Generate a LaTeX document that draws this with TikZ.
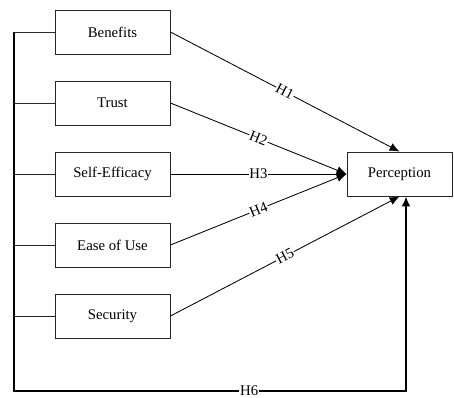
\documentclass[tikz,border=0pt]{standalone}
\usepackage{fontspec}
\setmainfont{Liberation Serif}
\usepackage{tikz}
\usetikzlibrary{arrows.meta,positioning}

\begin{document}
\begin{tikzpicture}[x=0.025cm,y=-0.025cm,>={Latex[length=7pt,width=6pt]},
    box/.style={draw=black!85,line width=0.6pt,minimum width=2.875cm,minimum height=1.1cm,inner sep=0pt,font=\fontsize{10.5}{12}\selectfont},
    hyp/.style={fill=white,inner sep=0.5pt,font=\fontsize{10.5}{12}\selectfont}]

        \useasboundingbox (0,0) rectangle (454,397);

        % factors
        \node[box] at (112.5,32) (Ben) {Benefits};
        \node[box] at (112.5,103) (Tru) {Trust};
        \node[box] at (112.5,174) (Self) {Self-Efficacy};
        \node[box] at (112.5,245) (Ease) {Ease of Use};
        \node[box] at (112.5,316) (Sec) {Security};
        \node[box,minimum width=2.625cm] at (399.5,174) (Per) {Perception};

        % left bus
        \coordinate (b1) at (14,32);
        \coordinate (b2) at (14,103);
        \coordinate (b3) at (14,174);
        \coordinate (b4) at (14,245);
        \coordinate (b5) at (14,316);
        \coordinate (b6) at (14,196);
        \coordinate (bl) at (14,391);
        \coordinate (br) at (406,391);
        \foreach \n/\b in {Ben/b1,Tru/b2,Self/b3,Ease/b4,Sec/b5}
            \draw[line width=0.6pt,black!85] (\n.west) -- (\b);
        \draw[line width=0.8pt] (b1) -- (b6);

        % hypotheses
        \draw[line width=0.6pt,->] (Ben.east) -- node[hyp,sloped] {H1} (Per.north);
        \draw[line width=0.6pt,->] (Tru.east) -- node[hyp,sloped] {H2} (Per.west);
        \draw[line width=0.6pt,->] (Self.east) -- node[hyp] {H3} (Per.west);
        \draw[line width=0.6pt,->] (Ease.east) -- node[hyp,sloped] {H4} (Per.west);
        \draw[line width=0.6pt,->] (Sec.east) -- node[hyp,sloped] {H5} (Per.south);
        \draw[line width=1.1pt,->] (b6) -- (bl) -- node[hyp,pos=0.6] {H6} (br) -- (br |- Per.south);
    \end{tikzpicture}
\end{document}
